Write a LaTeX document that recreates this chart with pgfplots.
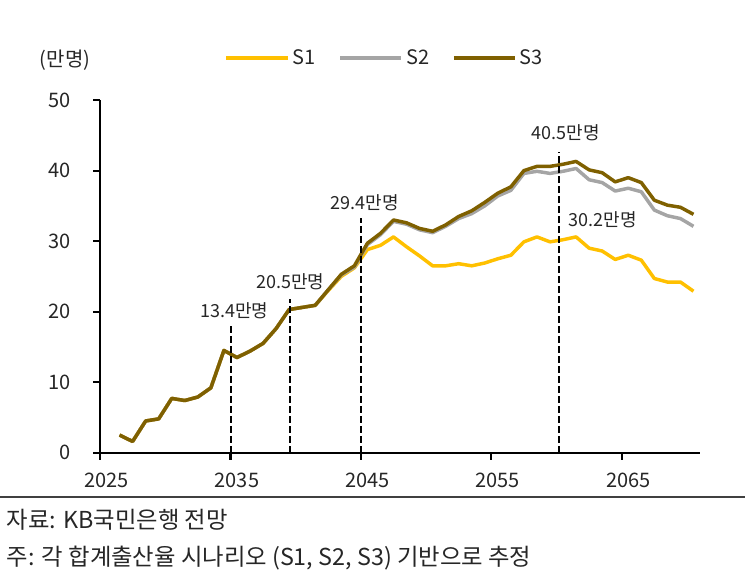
\documentclass[border=0pt]{standalone}
\usepackage{pgfplots}
\pgfplotsset{compat=1.18}
\usepackage{fontspec}
\setmainfont{Noto Sans CJK KR}

\definecolor{sone}{HTML}{FFC000}
\definecolor{stwo}{HTML}{A5A5A5}
\definecolor{sthree}{HTML}{7F6000}
\definecolor{txt}{HTML}{262626}

% projected population, 10 thousand persons, by scenario
\pgfplotstableread{
year S1 S2 S3
2026 2.5 2.5 2.5
2027 1.6 1.6 1.6
2028 4.5 4.5 4.5
2029 4.8 4.8 4.8
2030 7.7 7.7 7.7
2031 7.4 7.4 7.4
2032 7.9 7.9 7.9
2033 9.2 9.2 9.2
2034 14.5 14.5 14.5
2035 13.5 13.5 13.5
2036 14.4 14.4 14.4
2037 15.5 15.5 15.5
2038 17.6 17.6 17.6
2039 20.3 20.3 20.3
2040 20.6 20.6 20.6
2041 20.9 20.9 20.9
2042 23.0 23.1 23.1
2043 25.0 25.2 25.3
2044 26.2 26.3 26.5
2045 28.8 29.5 29.7
2046 29.4 30.9 31.1
2047 30.6 32.8 33.0
2048 29.2 32.4 32.6
2049 27.9 31.6 31.8
2050 26.5 31.2 31.4
2051 26.5 32.1 32.3
2052 26.8 33.2 33.5
2053 26.5 33.9 34.3
2054 26.9 35.0 35.5
2055 27.5 36.4 36.8
2056 28.0 37.2 37.7
2057 29.9 39.6 40.0
2058 30.6 39.9 40.6
2059 29.9 39.6 40.6
2060 30.2 39.9 40.9
2061 30.6 40.3 41.3
2062 29.0 38.7 40.1
2063 28.6 38.3 39.7
2064 27.4 37.1 38.4
2065 28.0 37.5 39.0
2066 27.3 37.0 38.3
2067 24.7 34.4 35.8
2068 24.2 33.6 35.1
2069 24.2 33.2 34.8
2070 22.9 32.1 33.8
}\popdata

\begin{document}
\begin{tikzpicture}
\path[use as bounding box] (0,0) rectangle (562.5pt,438.75pt);
\begin{axis}[
  at={(75pt,99.2pt)}, anchor=south west,
  scale only axis, width=450pt, height=264.5pt,
  xmin=2024.5, xmax=2070.5, ymin=0, ymax=50,
  axis x line*=bottom, axis y line*=left,
  axis line style={line width=1.6pt, -, black},
  tick style={line width=1.6pt, black},
  tick align=outside, major tick length=5.25pt,
  xtick={2024.5,2034.5,2044.5,2054.5,2064.5},
  xticklabels={2025,2035,2045,2055,2065},
  xticklabel style={xshift=4.9pt, yshift=-6.5pt},
  ytick={0,10,...,50},
  yticklabel style={xshift=-13.5pt},
  ticklabel style={font=\fontsize{15}{17}\selectfont, text=txt},
  /pgf/number format/assume math mode=true,
  legend columns=3,
  legend style={at={(rel axis cs:0.475,1.119)}, anchor=center, draw=none, fill=none,
    font=\fontsize{15}{17}\selectfont, text=txt,
    /tikz/every even column/.append style={column sep=15pt}},
  legend image code/.code={\draw[#1, line width=3pt] (0pt,0pt) -- (46pt,0pt);},
  clip=false,
]
\addplot[sone, line width=2.6pt, line join=round] table[x=year, y=S1] {\popdata};
\addlegendentry{S1}
\addplot[stwo, line width=2.6pt, line join=round] table[x=year, y=S2] {\popdata};
\addlegendentry{S2}
\addplot[sthree, line width=2.6pt, line join=round] table[x=year, y=S3] {\popdata};
\addlegendentry{S3}

\begin{scope}[black, line width=1.5pt, dash pattern=on 5pt off 2.5pt]
\draw (axis cs:2034.55,0) -- (axis cs:2034.55,18.4);
\draw (axis cs:2039.1,0) -- (axis cs:2039.1,21.8);
\draw (axis cs:2044.5,0) -- (axis cs:2044.5,33.3);
\draw (axis cs:2059.7,0) -- (axis cs:2059.7,42.7);
\end{scope}
\begin{scope}[every node/.style={font=\fontsize{13.5}{15}\selectfont, text=txt}]
\node at (axis cs:2034.8,20.2) {13.4만명};
\node at (axis cs:2039.1,24.2) {20.5만명};
\node at (axis cs:2044.8,35.4) {29.4만명};
\node at (axis cs:2060.2,45.3) {40.5만명};
\node at (axis cs:2063.05,33.1) {30.2만명};
\end{scope}
\end{axis}

\node[font=\fontsize{15}{17}\selectfont, text=txt] at (48.75pt,393.75pt) {(만명)};
\draw[line width=1pt, black!75] (0pt,66pt) -- (559pt,66pt);
\node[anchor=west, font=\fontsize{17.5}{19}\selectfont, text=txt, inner sep=0pt] at (5pt,49pt) {자료: KB국민은행 전망};
\node[anchor=west, font=\fontsize{17.5}{19}\selectfont, text=txt, inner sep=0pt] at (5pt,20pt) {주: 각 합계출산율 시나리오 (S1, S2, S3) 기반으로 추정};
\end{tikzpicture}
\end{document}
